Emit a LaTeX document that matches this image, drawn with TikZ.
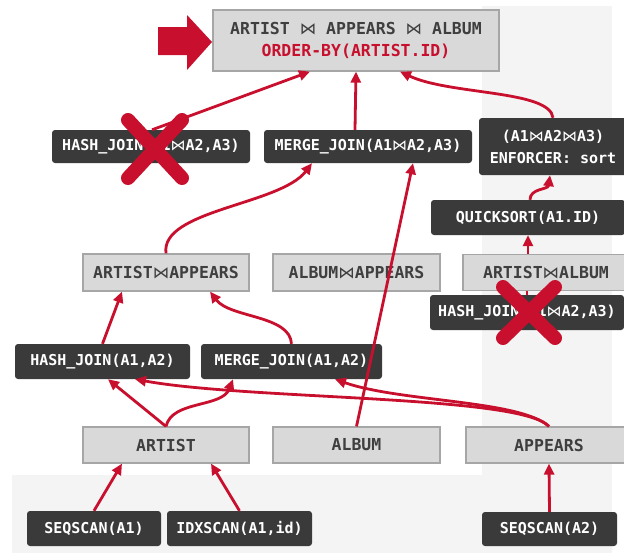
\documentclass[tikz,border=0pt]{standalone}
\usepackage{fontspec}
\setmonofont{DejaVu Sans Mono}
\newfontfamily\btfont{DejaVu Sans}
\usetikzlibrary{arrows.meta,calc}
\definecolor{cred}{HTML}{C8102E}
\definecolor{dbox}{HTML}{3A3A3A}
\definecolor{lbox}{HTML}{D9D9D9}
\definecolor{lborder}{HTML}{A6A6A6}
\definecolor{ltext}{HTML}{3F3F3F}
\definecolor{bgband}{HTML}{F4F4F4}
\newcommand{\bt}{{\btfont\mdseries ⋈}}
\tikzset{
  darkbox/.style={fill=dbox, text=white, rounded corners=3pt, inner sep=0pt,
    font=\ttfamily\bfseries\fontsize{15}{22}\selectfont},
  lightbox/.style={fill=lbox, draw=lborder, line width=1.2pt, text=ltext, inner sep=0pt,
    font=\ttfamily\bfseries\fontsize{16.5}{22}\selectfont},
  conn/.style={cred, line width=2.8pt, -{Triangle[length=11pt,width=10pt]}},
  plainconn/.style={cred, line width=2.8pt},
  cross/.style={cred, line width=14pt, line cap=round}
}
\begin{document}
\begin{tikzpicture}[x=1pt,y=-1pt]
\useasboundingbox (0,0) rectangle (624,555);
\fill[white] (0,0) rectangle (624,555);
\fill[bgband] (482,6) rectangle (612,553);
\fill[bgband] (12,475) rectangle (612,553);

% big arrow
\fill[cred] (158,27) -- (187,27) -- (187,15) -- (212,42) -- (187,70) -- (187,55) -- (158,55) -- cycle;

% nodes
\node[lightbox, minimum width=286pt, minimum height=61pt, align=center] (top) at (356,40.5)
  {ARTIST \bt{} APPEARS \bt{} ALBUM\\\textcolor{cred}{ORDER-BY(ARTIST.ID)}};
\node[darkbox, minimum width=198pt, minimum height=33pt] (hj3) at (151,146.5) {HASH\_JOIN(A1\bt{}A2,A3)};
\node[darkbox, minimum width=208pt, minimum height=33pt] (mj3) at (368,146.5) {MERGE\_JOIN(A1\bt{}A2,A3)};
\node[darkbox, minimum width=148pt, minimum height=57pt, align=center] (enf) at (553,146.5)
  {(A1\bt{}A2\bt{}A3)\\ENFORCER: sort};
\node[darkbox, minimum width=194pt, minimum height=35pt] (qs) at (528,217.5) {QUICKSORT(A1.ID)};
\node[lightbox, minimum width=166pt, minimum height=37pt] (aap) at (166,272.5) {ARTIST\bt{}APPEARS};
\node[lightbox, minimum width=167pt, minimum height=37pt] (alap) at (356.5,272.5) {ALBUM\bt{}APPEARS};
\node[lightbox, minimum width=166pt, minimum height=36pt] (aal) at (546,272.5) {ARTIST\bt{}ALBUM};
\node[darkbox, minimum width=194pt, minimum height=35pt] (hj3b) at (527,312.5) {HASH\_JOIN(A1\bt{}A2,A3)};
\node[darkbox, minimum width=175pt, minimum height=35pt] (hj2) at (102.5,361.5) {HASH\_JOIN(A1,A2)};
\node[darkbox, minimum width=181pt, minimum height=35pt] (mj2) at (291.5,361.5) {MERGE\_JOIN(A1,A2)};
\node[lightbox, minimum width=166pt, minimum height=36pt] (artist) at (166,445) {ARTIST};
\node[lightbox, minimum width=167pt, minimum height=36pt] (album) at (356.5,445) {ALBUM};
\node[lightbox, minimum width=166pt, minimum height=36pt] (appears) at (549,445) {APPEARS};
\node[darkbox, minimum width=134pt, minimum height=35pt] (ss1) at (94,528.5) {SEQSCAN(A1)};
\node[darkbox, minimum width=145pt, minimum height=35pt] (idx) at (239.5,528.5) {IDXSCAN(A1,id)};
\node[darkbox, minimum width=135pt, minimum height=34pt] (ss2) at (549.5,529) {SEQSCAN(A2)};

% connectors
\draw[conn] ([xshift=1pt]hj3.north) -- ([xshift=-46pt]top.south);
\draw[conn] ([xshift=-13pt]mj3.north) -- (top.south);
\draw[conn] (enf.north) .. controls (550,90) and (450,95) .. ([xshift=44pt]top.south);
\draw[conn] ([xshift=2pt]qs.north) .. controls (530,188) and (548,190) .. ([xshift=-3pt]enf.south);
\draw[conn] ([xshift=-18pt]aal.north) -- (qs.south);
\draw[plainconn] (hj3b.north) -- ([xshift=-19pt]aal.south);
\draw[conn] (aap.north) .. controls (160,210) and (280,205) .. ([xshift=-56pt]mj3.south);
\draw[conn] (album.north) -- ([xshift=45pt]mj3.south);
\draw[conn] (hj2.north) -- ([xshift=-44pt]aap.south);
\draw[conn] (mj2.north) .. controls (290,315) and (230,318) .. ([xshift=44pt]aap.south);
\draw[conn] (artist.north) -- ([xshift=5.5pt]hj2.south);
\draw[conn] (artist.north) .. controls (172,400) and (222,408) .. ([xshift=-58.5pt]mj2.south);
\draw[conn] (appears.north) .. controls (520,395) and (250,400) .. ([xshift=32.5pt]hj2.south);
\draw[conn] (appears.north) .. controls (520,400) and (400,402) .. ([xshift=43.5pt]mj2.south);
\draw[conn] (ss1.north) -- ([xshift=-44pt]artist.south);
\draw[conn] (idx.north) -- ([xshift=45pt]artist.south);
\draw[conn] (ss2.north) -- (appears.south);

% crosses
\draw[cross] (128,120) -- (182,178);
\draw[cross] (182,120) -- (128,178);
\draw[cross] (503,287) -- (555,338);
\draw[cross] (555,287) -- (503,338);
\end{tikzpicture}
\end{document}
